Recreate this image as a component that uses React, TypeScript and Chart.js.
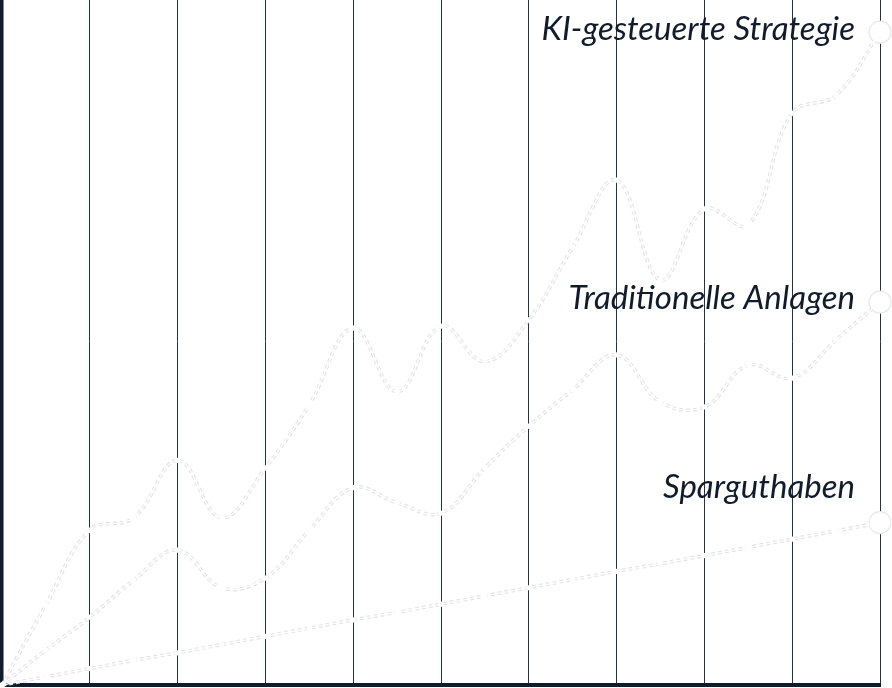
import React, { useEffect, useRef } from "react";
import { Chart, registerables } from "chart.js";

Chart.register(...registerables);

// Months since start (half-year steps)
const months = ["0", "6", "12", "18", "24", "30", "36", "42", "48", "54", "60", "66", "72", "78", "84", "90", "96", "102", "108", "114", "120"];

const seriesNames = ["KI-gesteuerte Strategie", "Traditionelle Anlagen", "Sparguthaben"];

const kiStrategie = [0, 11.7, 22.6, 24.4, 32.8, 24.4, 31.7, 40.9, 52.1, 42.8, 52.4, 47.2, 53.3, 63.9, 73.7, 59.1, 69.5, 67.2, 83.5, 86.1, 95.3];
const traditionelleAnlagen = [0, 5.1, 9.9, 15.3, 19.7, 14.2, 15.6, 22.6, 28.8, 26.6, 25.1, 31.7, 37.8, 43.1, 48.2, 41.3, 40.6, 46.7, 44.8, 50.4, 55.9];
const sparguthaben = [0, 1.2, 2.4, 3.6, 4.7, 5.9, 7.1, 8.3, 9.5, 10.6, 11.8, 13.0, 14.2, 15.4, 16.6, 17.7, 18.9, 20.1, 21.3, 22.5, 23.7];

const yMin = 0;
const yMax = 100;

const INK = "#101b2b";
const GRID = "#263142";
const LINE_GRAY = "#e3e3e3";

export default function App() {
  const canvasRef = useRef<HTMLCanvasElement | null>(null);

  useEffect(() => {
    document.body.style.margin = "0";
    const canvas = canvasRef.current;
    if (!canvas) return;

    const series = [kiStrategie, traditionelleAnlagen, sparguthaben];
    const last = months.length - 1;

    const mainSets = series.map((data, i) => ({
      label: seriesNames[i],
      data,
      borderColor: LINE_GRAY,
      borderWidth: 3.5,
      borderDash: [4, 3],
      tension: 0.4,
      fill: false,
      clip: false as any,
      pointRadius: (ctx: any) => (ctx.dataIndex === last ? 11 : 2.6),
      pointBackgroundColor: "#ffffff",
      pointBorderColor: (ctx: any) => (ctx.dataIndex === last ? "#e8e8e8" : "#ffffff"),
      pointBorderWidth: (ctx: any) => (ctx.dataIndex === last ? 1.2 : 0),
      pointHoverRadius: 0,
    }));

    const overlaySets = series.map((data, i) => ({
      label: seriesNames[i] + " overlay",
      data,
      borderColor: "#ffffff",
      borderWidth: 1.3,
      tension: 0.4,
      fill: false,
      clip: false as any,
      pointRadius: 0,
      pointHoverRadius: 0,
    }));

    const labelOffsets = [-3, -4, -35];

    const endLabels = {
      id: "endLabels",
      afterDatasetsDraw(chart: any) {
        const ctx = chart.ctx;
        ctx.save();
        ctx.font = "italic 33px Lato, 'Open Sans', sans-serif";
        ctx.fillStyle = INK;
        ctx.textAlign = "right";
        ctx.textBaseline = "middle";
        // main datasets are placed after overlays (indices 3..5)
        for (let i = 0; i < 3; i++) {
          const meta = chart.getDatasetMeta(i + 3);
          const pt = meta.data[meta.data.length - 1];
          if (!pt) continue;
          ctx.fillText(seriesNames[i], pt.x - 25, pt.y + labelOffsets[i]);
        }
        ctx.restore();
      },
    };

    const chart = new Chart(canvas, {
      type: "line",
      data: {
        labels: months,
        datasets: [...overlaySets, ...mainSets] as any,
      },
      options: {
        animation: false,
        responsive: true,
        maintainAspectRatio: false,
        layout: { autoPadding: false, padding: { left: 2, right: 12, top: 0, bottom: 3 } },
        plugins: {
          legend: { display: false },
          tooltip: { enabled: false },
        },
        scales: {
          x: {
            offset: false,
            ticks: { display: false },
            grid: {
              display: true,
              drawTicks: false,
              color: (ctx: any) => (ctx.index % 2 === 0 ? GRID : "rgba(0,0,0,0)"),
              lineWidth: 1,
            },
            border: { display: true, color: INK, width: 4 },
          },
          y: {
            min: yMin,
            max: yMax,
            ticks: { display: false },
            grid: { display: false, drawTicks: false },
            border: { display: true, color: INK, width: 3.5 },
          },
        },
      },
      plugins: [endLabels],
    });

    return () => chart.destroy();
  }, []);

  return (
    <div style={{ position: "absolute", left: 0, top: 0, width: 892, height: 688, background: "#ffffff" }}>
      <canvas ref={canvasRef} />
    </div>
  );
}
